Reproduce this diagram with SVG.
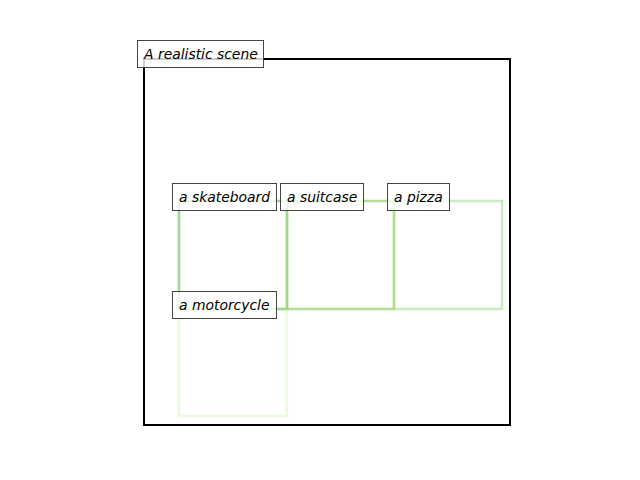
<svg xmlns="http://www.w3.org/2000/svg" width="640" height="480" viewBox="0 0 640 480">
<style>
.lbl{fill:#fff;fill-opacity:0.8;stroke:#444;stroke-width:1}
.t{font-family:"DejaVu Sans",sans-serif;font-style:italic;font-size:13.9px;fill:#000}
.bb{fill:none;stroke-width:2.5}
</style>
<rect width="640" height="480" fill="#fff"/>
<g id="scene">
<rect x="144" y="59" width="366" height="366" fill="none" stroke="#000" stroke-width="2"/>
</g>
<g id="connectors"></g>
<g id="motorcycle">
<rect class="bb" x="179" y="309" width="108" height="107" stroke="#e9fbdf"/>
</g>
<g id="pizza">
<rect class="bb" x="394" y="201" width="108" height="108" stroke="#c9ecbd"/>
</g>
<g id="suitcase">
<rect class="bb" x="287" y="201" width="107" height="108" stroke="#b3e08e"/>
</g>
<g id="skateboard">
<rect class="bb" x="179" y="201" width="108" height="108" stroke="#9bda8c"/>
</g>
<g id="label-scene">
<rect class="lbl" x="137.5" y="40.5" width="126" height="27"/>
<text class="t" x="144" y="59">A realistic scene</text>
</g>
<g id="label-skateboard">
<rect class="lbl" x="172.5" y="183.5" width="104" height="27"/>
<text class="t" x="179" y="202">a skateboard</text>
</g>
<g id="label-suitcase">
<rect class="lbl" x="280.5" y="183.5" width="83" height="27"/>
<text class="t" x="287" y="202">a suitcase</text>
</g>
<g id="label-pizza">
<rect class="lbl" x="387.5" y="183.5" width="62" height="27"/>
<text class="t" x="394" y="202">a pizza</text>
</g>
<g id="label-motorcycle">
<rect class="lbl" x="172.5" y="291.5" width="104" height="27"/>
<text class="t" x="179" y="310">a motorcycle</text>
</g>
</svg>
